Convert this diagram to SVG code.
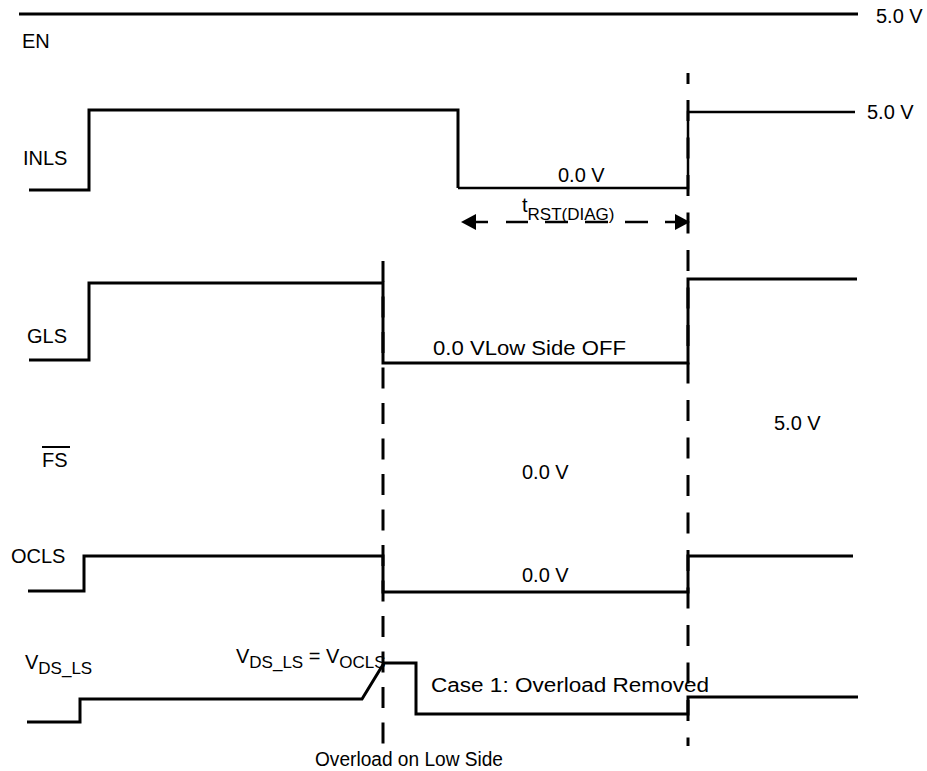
<svg xmlns="http://www.w3.org/2000/svg" width="927" height="771" viewBox="0 0 927 771">
<style>
  text { font-family: "Liberation Sans", Arial, sans-serif; fill: #000; font-size: 20px; }
  .sig { fill: none; stroke: #000; stroke-width: 3; stroke-linejoin: miter; }
  .thin { fill: none; stroke: #000; stroke-width: 2.5; }
  .dash { fill: none; stroke: #000; stroke-width: 3; }
  .sub { font-size: 17px; }
</style>
<rect width="927" height="771" fill="#fff"/>
<g id="connectors">
  <line class="dash" x1="383" y1="261" x2="383" y2="745" stroke-dasharray="21 14.5"/>
  <line class="dash" x1="688" y1="73" x2="688" y2="84"/>
  <line class="dash" x1="688" y1="100" x2="688" y2="746" stroke-dasharray="21 16.5"/>
  <g id="trst-arrow">
    <path class="thin" d="M476,222H488 M506,222H528 M545,222H568 M585,222H608 M625,222H648 M665,222H676"/>
    <polygon points="461,222 476,214 476,230" fill="#000"/>
    <polygon points="690,222 675,214 675,230" fill="#000"/>
  </g>
</g>
<g id="EN">
  <line class="sig" x1="19" y1="14" x2="858" y2="14" stroke-width="3.5"/>
  <text x="876" y="23" font-size="21.5">5.0 V</text>
  <text x="22" y="48">EN</text>
</g>
<g id="INLS">
  <path class="sig" d="M29,190H89V110H458V188"/>
  <path class="thin" d="M458,188H688V112H855"/>
  <text x="23" y="165">INLS</text>
  <text x="867" y="119" font-size="21">5.0 V</text>
  <text x="558" y="182">0.0 V</text>
  <text x="522" y="212" font-size="21">t<tspan class="sub" dy="8">RST(DIAG)</tspan></text>
</g>
<g id="GLS">
  <path class="sig" d="M29,360H89V283H383V363H688V279H857"/>
  <text x="27" y="343">GLS</text>
  <text x="433" y="355" font-size="21.5" textLength="193" lengthAdjust="spacingAndGlyphs">0.0 VLow Side OFF</text>
  <text x="774" y="430">5.0 V</text>
</g>
<g id="FS">
  <text x="42" y="467">FS</text>
  <line x1="42" y1="447" x2="70" y2="447" stroke="#000" stroke-width="2"/>
  <text x="522" y="479">0.0 V</text>
</g>
<g id="OCLS">
  <path class="sig" d="M28,591H84V556H383V592H688V556H853"/>
  <text x="11" y="563">OCLS</text>
  <text x="522" y="582">0.0 V</text>
</g>
<g id="VDS_LS">
  <path class="sig" d="M27,722H80V699H362L384,663H416V714H688V697H858"/>
  <text x="25" y="669" font-size="21">V<tspan class="sub" dy="5">DS_LS</tspan></text>
  <text x="236" y="663" font-size="19">V<tspan class="sub" font-size="16.5" dy="5">DS_LS</tspan><tspan dy="-5"> = V</tspan><tspan class="sub" font-size="16.5" dy="5">OCLS</tspan></text>
  <text x="431" y="692" font-size="22" textLength="278" lengthAdjust="spacingAndGlyphs">Case 1: Overload Removed</text>
</g>
<g id="annotation">
  <text x="315" y="766" font-size="20" textLength="188" lengthAdjust="spacingAndGlyphs">Overload on Low Side</text>
</g>
</svg>
